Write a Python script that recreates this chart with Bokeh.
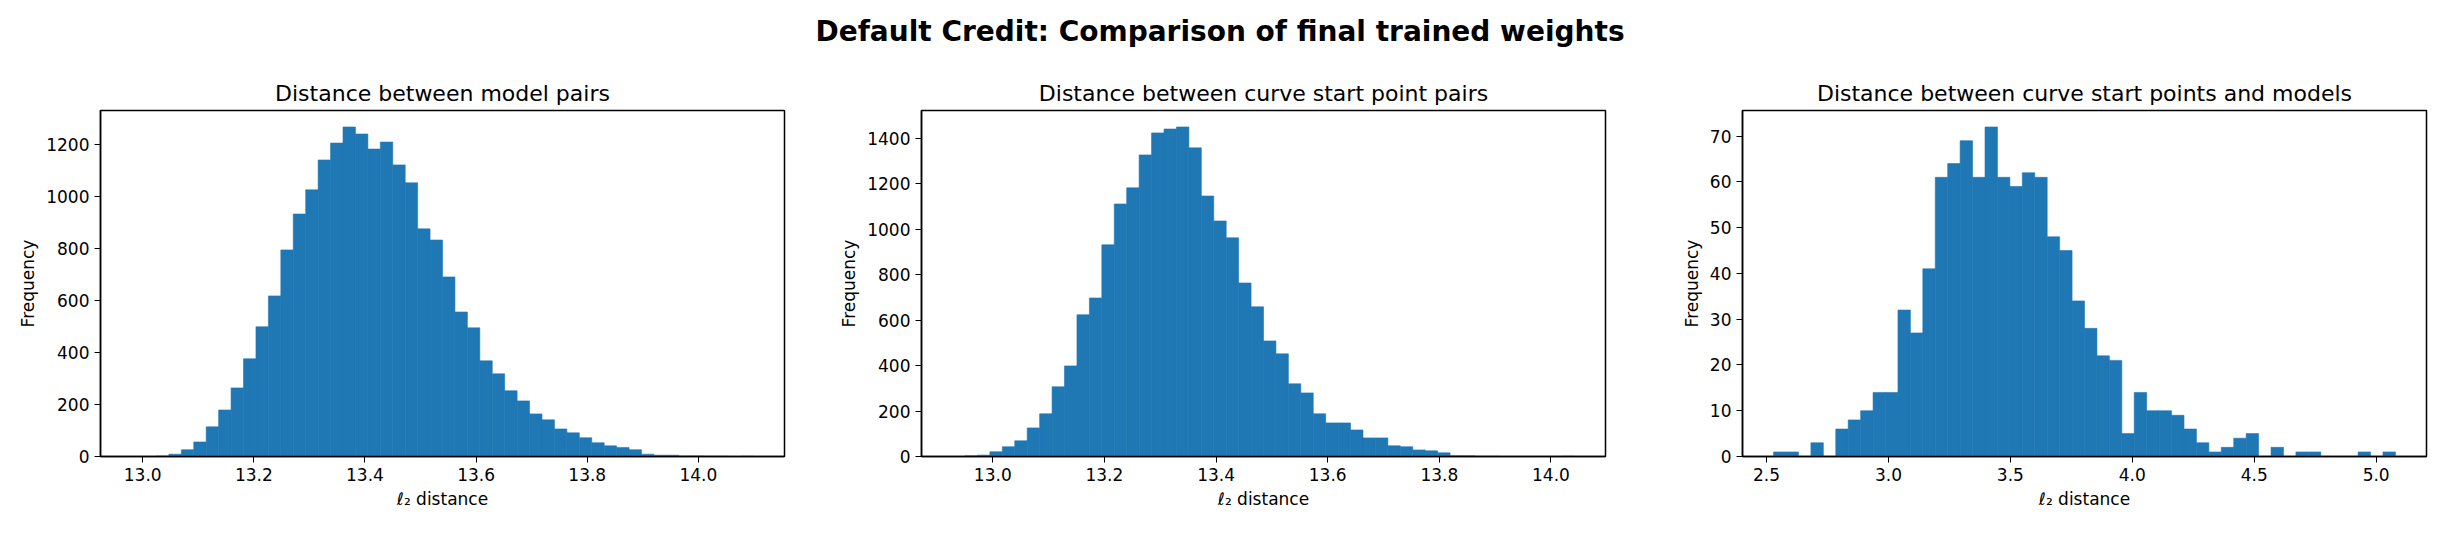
import numpy as np
from bokeh.plotting import figure
from bokeh.layouts import column, row
from bokeh.models import Div, FixedTicker, NumeralTickFormatter, Range1d
from bokeh.embed import file_html
from bokeh.resources import INLINE

# histogram counts (50 bins each)
model_pairs = [0, 0, 2, 9, 26, 56, 114, 179, 264, 376, 499, 618, 795, 933, 1026, 1141,
               1206, 1268, 1241, 1183, 1210, 1122, 1053, 876, 833, 691, 556, 495, 368, 318,
               253, 214, 164, 141, 106, 91, 72, 53, 41, 35, 26, 9, 5, 5, 2, 2, 1, 1, 0, 1]
start_pairs = [0, 3, 6, 21, 43, 69, 126, 188, 307, 399, 624, 698, 932, 1112, 1183, 1328,
               1425, 1442, 1451, 1359, 1147, 1037, 963, 764, 659, 509, 452, 320, 280, 188,
               148, 148, 117, 82, 82, 47, 43, 29, 25, 16, 3, 3, 1, 1, 0, 0, 0, 0, 0, 1]
start_models = [1, 1, 0, 3, 0, 6, 8, 10, 14, 14, 32, 27, 41, 61, 64, 69, 61, 72, 61, 59,
                62, 61, 48, 45, 34, 28, 22, 21, 5, 14, 10, 10, 9, 6, 3, 1, 2, 4, 5, 0,
                2, 0, 1, 1, 0, 0, 0, 1, 0, 1]

# bin ranges (min, max) of each histogram
ranges = [(12.980, 14.099), (12.928, 14.042), (2.529, 5.079)]
titles = ["Distance between model pairs",
          "Distance between curve start point pairs",
          "Distance between curve start points and models"]
y_ticks = [list(range(0, 1401, 200)), list(range(0, 1401, 200)), list(range(0, 71, 10))]
x_ticks = [[13.0, 13.2, 13.4, 13.6, 13.8, 14.0], [13.0, 13.2, 13.4, 13.6, 13.8, 14.0],
           [2.5, 3.0, 3.5, 4.0, 4.5, 5.0]]

FONT = "DejaVu Sans"


def make_hist(counts, rng, title, yt, xt):
    edges = np.linspace(rng[0], rng[1], len(counts) + 1)
    span = rng[1] - rng[0]
    p = figure(frame_width=684, frame_height=346, output_backend="svg",
               toolbar_location=None, title=title,
               x_range=Range1d(rng[0] - 0.05 * span, rng[1] + 0.05 * span),
               y_range=Range1d(0, max(counts) * 1.05),
               min_border_left=100, min_border_right=37, min_border_top=10,
               min_border_bottom=10)
    p.quad(left=edges[:-1], right=edges[1:], bottom=0, top=counts,
           fill_color="#1f77b4", line_color="#1f77b4", line_width=0.6)
    p.title.align = "center"
    p.title.text_font = FONT
    p.title.text_font_size = "22px"
    p.title.text_font_style = "normal"
    p.title.text_color = "black"
    p.xgrid.visible = False
    p.ygrid.visible = False
    p.outline_line_color = "black"
    p.outline_line_width = 1.5
    p.xaxis.axis_label = "ℓ₂ distance"
    p.yaxis.axis_label = "Frequency"
    p.xaxis.ticker = FixedTicker(ticks=xt)
    p.yaxis.ticker = FixedTicker(ticks=yt)
    p.xaxis.formatter = NumeralTickFormatter(format="0.0")
    for ax in (p.xaxis, p.yaxis):
        ax.axis_label_text_font = FONT
        ax.axis_label_text_font_style = "normal"
        ax.axis_label_text_font_size = "17px"
        ax.axis_label_text_color = "black"
        ax.major_label_text_font = FONT
        ax.major_label_text_font_size = "17px"
        ax.major_label_text_color = "black"
        ax.minor_tick_line_color = None
        ax.major_tick_out = 6
        ax.major_tick_in = 0
        ax.axis_line_color = "black"
        ax.axis_line_width = 1.5
    return p


plots = [make_hist(c, r, t, yt, xt) for c, r, t, yt, xt in
         zip([model_pairs, start_pairs, start_models], ranges, titles, y_ticks, x_ticks)]

header = Div(text="Default Credit: Comparison of final trained weights",
             width=2430, height=56,
             styles={"text-align": "center", "font-family": FONT, "font-size": "28px",
                     "font-weight": "bold", "width": "2430px", "margin-top": "12px"})

p = column(header, row(*plots))
open("out.html", "w").write(file_html(p, INLINE))
